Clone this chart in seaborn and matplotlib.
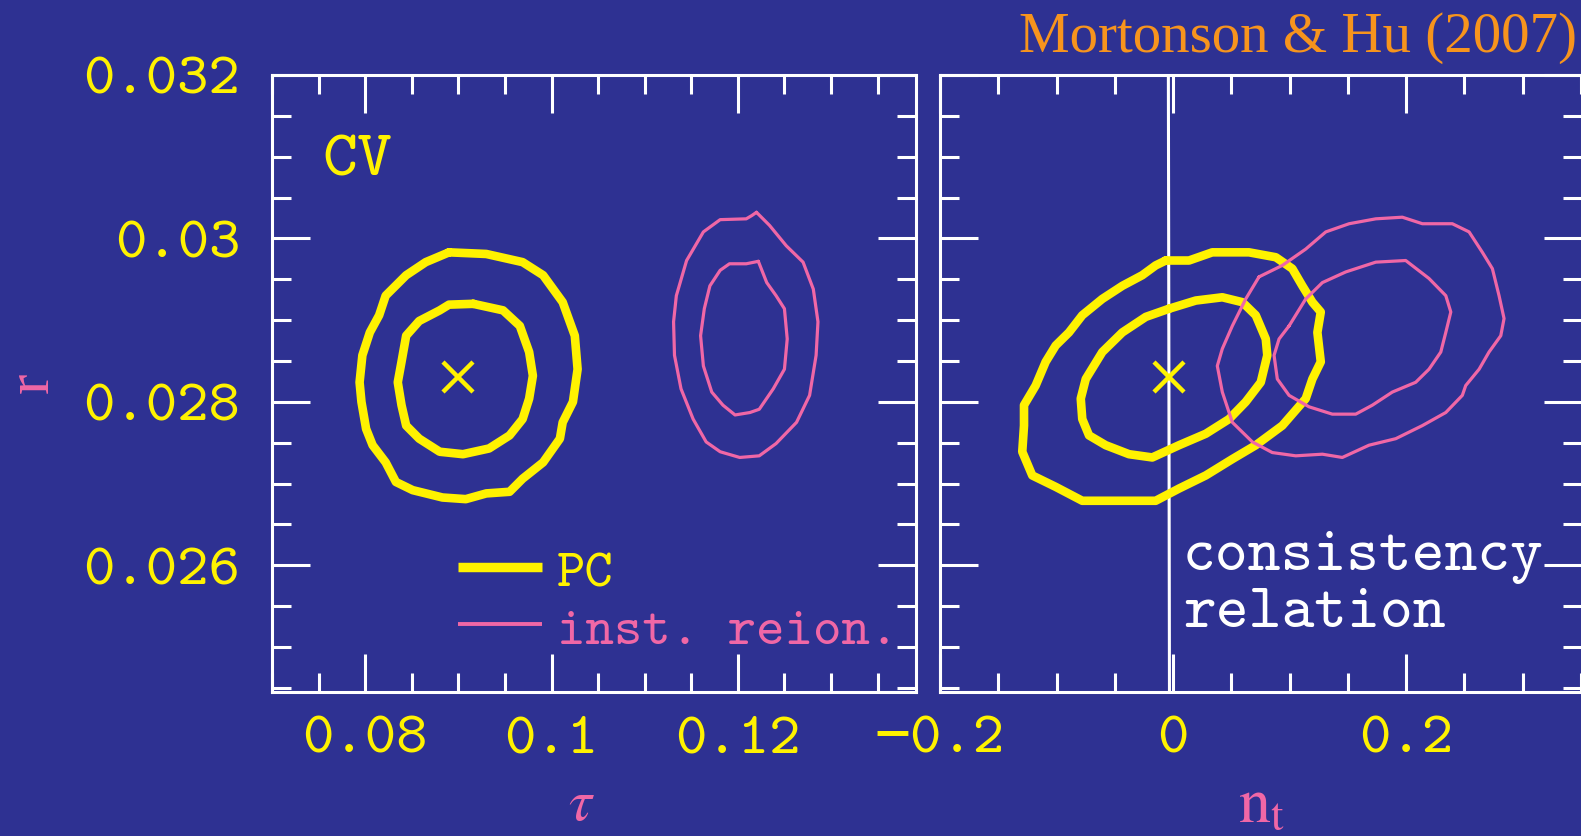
import numpy as np
import pandas as pd
import matplotlib
matplotlib.use("Agg")
import matplotlib.pyplot as plt
import seaborn as sns
from matplotlib.ticker import MultipleLocator, FixedLocator, FixedFormatter

# ---- colours ----
BG = "#2E3192"
YELLOW = "#FFF200"
PINK = "#F067A6"
ORANGE = "#F7941D"
WHITE = "#FFFFFF"

# ---- fiducial model ----
tau_fid = 0.090
r_fid = 0.0283

# ---- tau - r plane: principal-component reionization (PC) ----
pc_tau_outer = [0.0890, 0.0930, 0.0969, 0.0991, 0.1012, 0.1025, 0.1028, 0.1023, 0.1012, 0.1009,
                0.0991, 0.0969, 0.0955, 0.0930, 0.0908, 0.0883, 0.0851, 0.0833, 0.0822, 0.0808,
                0.0801, 0.0796, 0.0794, 0.0797, 0.0805, 0.0815, 0.0822, 0.0844, 0.0865]
pc_r_outer = [0.02983, 0.02981, 0.02971, 0.02955, 0.02922, 0.02881, 0.02840, 0.02800, 0.02775, 0.02755,
              0.02726, 0.02706, 0.02690, 0.02688, 0.02681, 0.02683, 0.02692, 0.02702, 0.02726, 0.02747,
              0.02767, 0.02800, 0.02824, 0.02857, 0.02885, 0.02906, 0.02930, 0.02955, 0.02971]
pc_tau_inner = [0.0916, 0.0948, 0.0966, 0.0976, 0.0980, 0.0976, 0.0969, 0.0955, 0.0933, 0.0905,
                0.0880, 0.0858, 0.0844, 0.0839, 0.0835, 0.0839, 0.0844, 0.0858, 0.0880, 0.0890]
pc_r_inner = [0.02920, 0.02912, 0.02893, 0.02861, 0.02832, 0.02804, 0.02779, 0.02759, 0.02743, 0.02736,
              0.02739, 0.02755, 0.02771, 0.02796, 0.02824, 0.02849, 0.02881, 0.02899, 0.02912, 0.02919]

# ---- tau - r plane: instantaneous reionization ----
inst_tau_outer = [0.1220, 0.1234, 0.1252, 0.1270, 0.1281, 0.1286, 0.1284, 0.1277, 0.1263, 0.1241,
                  0.1223, 0.1202, 0.1181, 0.1166, 0.1152, 0.1139, 0.1132, 0.1131, 0.1134, 0.1145,
                  0.1163, 0.1181, 0.1209, 0.1215]
inst_r_outer = [0.03032, 0.03016, 0.02991, 0.02971, 0.02938, 0.02898, 0.02857, 0.02808, 0.02775, 0.02749,
                0.02734, 0.02732, 0.02739, 0.02751, 0.02779, 0.02816, 0.02857, 0.02898, 0.02930, 0.02973,
                0.03008, 0.03023, 0.03024, 0.03028]
inst_tau_inner = [0.1222, 0.1231, 0.1241, 0.1250, 0.1253, 0.1250, 0.1238, 0.1223, 0.1213, 0.1197,
                  0.1184, 0.1172, 0.1163, 0.1160, 0.1164, 0.1170, 0.1181, 0.1191, 0.1209]
inst_r_inner = [0.02972, 0.02946, 0.02930, 0.02914, 0.02877, 0.02840, 0.02816, 0.02791, 0.02787, 0.02784,
                0.02796, 0.02812, 0.02844, 0.02881, 0.02914, 0.02942, 0.02961, 0.02969, 0.02969]

# ---- n_t - r plane: PC ----
pc_nt_outer = [-0.0063, 0.0137, 0.0337, 0.0652, 0.0882, 0.1024, 0.1110, 0.1196, 0.1268, 0.1239,
               0.1268, 0.1196, 0.1139, 0.0938, 0.0710, 0.0509, 0.0281, 0.0052, -0.0149, -0.0435,
               -0.0779, -0.1007, -0.1208, -0.1294, -0.1279, -0.1279, -0.1179, -0.1093, -0.1007, -0.0893,
               -0.0779, -0.0607, -0.0435, -0.0264, -0.0149]
pc_rn_outer = [0.02973, 0.02973, 0.02983, 0.02983, 0.02977, 0.02963, 0.02942, 0.02922, 0.02910, 0.02885,
               0.02849, 0.02828, 0.02804, 0.02771, 0.02747, 0.02730, 0.02710, 0.02694, 0.02679, 0.02679,
               0.02679, 0.02696, 0.02710, 0.02739, 0.02771, 0.02796, 0.02820, 0.02849, 0.02869, 0.02885,
               0.02906, 0.02926, 0.02942, 0.02955, 0.02967]
pc_nt_inner = [-0.0034, 0.0195, 0.0423, 0.0595, 0.0710, 0.0796, 0.0809, 0.0753, 0.0624, 0.0481,
               0.0281, 0.0052, -0.0178, -0.0378, -0.0578, -0.0721, -0.0779, -0.0792, -0.0749, -0.0607,
               -0.0435, -0.0234]
pc_rn_inner = [0.02914, 0.02924, 0.02928, 0.02922, 0.02906, 0.02877, 0.02857, 0.02824, 0.02800, 0.02779,
               0.02761, 0.02747, 0.02732, 0.02736, 0.02747, 0.02759, 0.02779, 0.02804, 0.02828, 0.02861,
               0.02885, 0.02904]

# ---- n_t - r plane: instantaneous reionization ----
inst_nt_outer = [0.0738, 0.0938, 0.1139, 0.1311, 0.1511, 0.1740, 0.1968, 0.2140, 0.2397, 0.2541,
                 0.2655, 0.2741, 0.2798, 0.2841, 0.2813, 0.2712, 0.2627, 0.2512, 0.2483, 0.2341,
                 0.2140, 0.1912, 0.1682, 0.1453, 0.1282, 0.1053, 0.0852, 0.0681, 0.0509, 0.0423,
                 0.0380, 0.0423, 0.0509, 0.0624]
inst_rn_outer = [0.02953, 0.02967, 0.02987, 0.03008, 0.03018, 0.03024, 0.03026, 0.03018, 0.03018, 0.03008,
                 0.02983, 0.02963, 0.02930, 0.02902, 0.02881, 0.02861, 0.02840, 0.02820, 0.02808, 0.02787,
                 0.02771, 0.02755, 0.02747, 0.02732, 0.02736, 0.02734, 0.02738, 0.02751, 0.02775, 0.02812,
                 0.02844, 0.02865, 0.02893, 0.02926]
inst_nt_inner = [0.0996, 0.1139, 0.1282, 0.1482, 0.1740, 0.1997, 0.2197, 0.2341, 0.2384, 0.2341,
                 0.2298, 0.2197, 0.2083, 0.1882, 0.1711, 0.1568, 0.1367, 0.1167, 0.0996, 0.0895,
                 0.0867, 0.0910]
inst_rn_inner = [0.02893, 0.02926, 0.02946, 0.02959, 0.02971, 0.02973, 0.02951, 0.02930, 0.02910, 0.02885,
                 0.02861, 0.02840, 0.02824, 0.02812, 0.02796, 0.02785, 0.02785, 0.02794, 0.02808, 0.02828,
                 0.02857, 0.02877]

# ---- axes ranges and tick labels ----
r_lim = (0.02445, 0.032)
tau_lim = (0.0700, 0.1391)
nt_lim = (-0.2, 0.351)
r_ticks = [0.026, 0.028, 0.030, 0.032]
r_ticklabels = ["0.026", "0.028", "0.03", "0.032"]
tau_ticks = [0.08, 0.10, 0.12]
tau_ticklabels = ["0.08", "0.1", "0.12"]
nt_ticks = [-0.2, 0.0, 0.2]
nt_ticklabels = ["\u22120.2", "0", "0.2"]

sns.set_style("ticks")
plt.rcParams.update({
    "font.family": ["cmtt10", "DejaVu Sans Mono"],
    "mathtext.fontset": "stix",
    "axes.unicode_minus": False,
    "figure.facecolor": BG,
    "axes.facecolor": BG,
    "savefig.facecolor": BG,
})

TICK_FONT = ["cmtt10", "DejaVu Sans Mono"]
SERIF = ["Liberation Serif", "DejaVu Serif"]

fig = plt.figure(figsize=(15.81, 8.37), dpi=100)
ax_tau = fig.add_axes([272 / 1581, 1 - 693 / 837, 643.8 / 1581, 617 / 837])
ax_nt = fig.add_axes([940 / 1581, 1 - 693 / 837, 642 / 1581, 617 / 837])


def closed_contour(ax, x, y, color, lw):
    xs = list(x) + [x[0]]
    ys = list(y) + [y[0]]
    df = pd.DataFrame({"x": xs, "y": ys})
    sns.lineplot(data=df, x="x", y="y", sort=False, estimator=None, color=color,
                 linewidth=lw, ax=ax, solid_joinstyle="round", solid_capstyle="round")


PC_LW = 6.2
INST_LW = 2.3

# left panel: tau - r
closed_contour(ax_tau, pc_tau_outer, pc_r_outer, YELLOW, PC_LW)
closed_contour(ax_tau, pc_tau_inner, pc_r_inner, YELLOW, PC_LW)
closed_contour(ax_tau, inst_tau_outer, inst_r_outer, PINK, INST_LW)
closed_contour(ax_tau, inst_tau_inner, inst_r_inner, PINK, INST_LW)
ax_tau.plot([tau_fid], [r_fid], marker="x", color=YELLOW, markersize=21, mew=3.2, ls="none")

# right panel: n_t - r
closed_contour(ax_nt, pc_nt_outer, pc_rn_outer, YELLOW, PC_LW)
closed_contour(ax_nt, pc_nt_inner, pc_rn_inner, YELLOW, PC_LW)
closed_contour(ax_nt, inst_nt_outer, inst_rn_outer, PINK, INST_LW)
closed_contour(ax_nt, inst_nt_inner, inst_rn_inner, PINK, INST_LW)
# consistency relation n_t = -r/8
r_line = np.array(r_lim)
ax_nt.plot(-r_line / 8.0, r_line, color=WHITE, lw=2.2, zorder=1)
ax_nt.plot([-r_fid / 8.0], [r_fid], marker="x", color=YELLOW, markersize=21, mew=3.2, ls="none")

for ax in (ax_tau, ax_nt):
    ax.set_ylim(*r_lim)
    ax.yaxis.set_major_locator(FixedLocator(r_ticks))
    ax.yaxis.set_minor_locator(MultipleLocator(0.0005))
    ax.tick_params(which="both", direction="in", top=True, right=True, color=WHITE,
                   width=2.2, labelcolor=YELLOW, labelsize=43)
    ax.tick_params(which="major", length=27.5)
    ax.tick_params(which="minor", length=13.7)
    ax.tick_params(axis="x", pad=17)
    ax.tick_params(axis="y", pad=23)
    for sp in ax.spines.values():
        sp.set_color(WHITE)
        sp.set_linewidth(2.2)
        sp.set_visible(True)
    ax.set_xlabel("")
    ax.set_ylabel("")

ax_tau.set_xlim(*tau_lim)
ax_tau.xaxis.set_major_locator(FixedLocator(tau_ticks))
ax_tau.xaxis.set_major_formatter(FixedFormatter(tau_ticklabels))
ax_tau.xaxis.set_minor_locator(MultipleLocator(0.005))
ax_tau.yaxis.set_major_formatter(FixedFormatter(r_ticklabels))

ax_nt.set_xlim(*nt_lim)
ax_nt.xaxis.set_major_locator(FixedLocator(nt_ticks))
ax_nt.xaxis.set_major_formatter(FixedFormatter(nt_ticklabels))
ax_nt.xaxis.set_minor_locator(MultipleLocator(0.05))
ax_nt.tick_params(labelleft=False)

for ax in (ax_tau, ax_nt):
    for lab in ax.get_xticklabels() + ax.get_yticklabels():
        lab.set_family(TICK_FONT)

# panel annotations
ax_tau.text(0.079, 0.838, "CV", transform=ax_tau.transAxes, color=YELLOW,
            fontsize=48, family=TICK_FONT, va="baseline", ha="left")
ax_tau.plot([0.289, 0.419], [0.2026, 0.2026], transform=ax_tau.transAxes, color=YELLOW, lw=6.8,
            solid_capstyle="butt")
ax_tau.plot([0.289, 0.419], [0.110, 0.110], transform=ax_tau.transAxes, color=PINK, lw=2.8,
            solid_capstyle="butt")
ax_tau.text(0.4427, 0.173, "PC", transform=ax_tau.transAxes, color=YELLOW,
            fontsize=39, family=TICK_FONT, va="baseline", ha="left")
ax_tau.text(0.4427, 0.0794, "inst. reion.", transform=ax_tau.transAxes, color=PINK,
            fontsize=39, family=TICK_FONT, va="baseline", ha="left")

ax_nt.text(0.3785, 0.199, "consistency", transform=ax_nt.transAxes, color=WHITE,
           fontsize=45, family=TICK_FONT, va="baseline", ha="left")
ax_nt.text(0.3785, 0.107, "relation", transform=ax_nt.transAxes, color=WHITE,
           fontsize=45, family=TICK_FONT, va="baseline", ha="left")

# axis labels and credit line
fig.text(33 / 1581, 1 - 383 / 837, "r", rotation=90, color=PINK, fontsize=44,
         family=SERIF, ha="center", va="center")
fig.text(581 / 1581, 1 - 820 / 837, r"$\tau$", color=PINK, fontsize=42, ha="center", va="baseline")
fig.text(1262 / 1581, 1 - 822 / 837, r"$\mathrm{n_t}$", color=PINK, fontsize=46,
         ha="center", va="baseline")
fig.text(1577 / 1581, 1 - 52 / 837, "Mortonson & Hu (2007)", color=ORANGE, fontsize=41,
         family=SERIF, ha="right", va="baseline")

fig.savefig("out.png", dpi=100, facecolor=BG)
